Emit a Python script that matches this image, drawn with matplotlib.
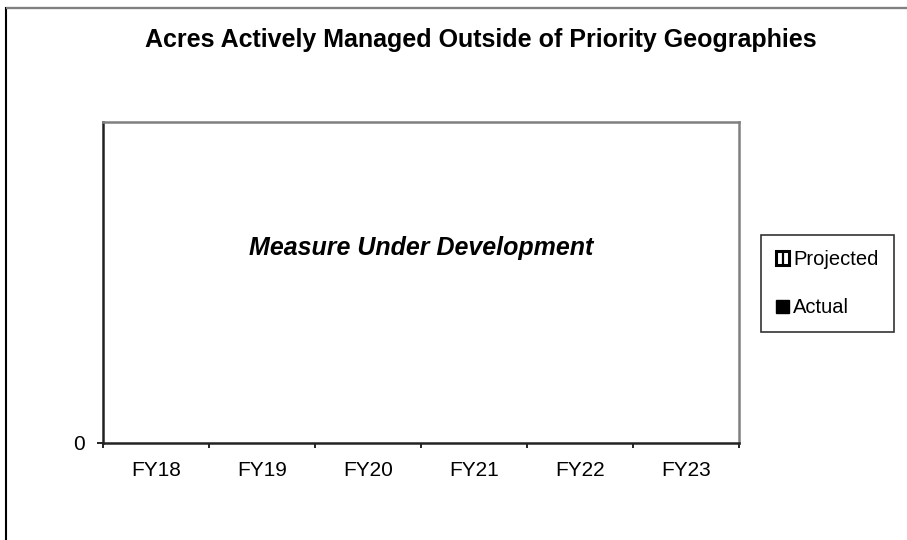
import matplotlib
matplotlib.use("Agg")
import matplotlib.pyplot as plt
from matplotlib.patches import Patch, Rectangle
from matplotlib.lines import Line2D

plt.rcParams['font.family'] = ['Liberation Sans', 'DejaVu Sans']

# Chart data (measure still under development, so nothing plotted yet)
categories = ["FY18", "FY19", "FY20", "FY21", "FY22", "FY23"]
projected = [0, 0, 0, 0, 0, 0]
actual = [0, 0, 0, 0, 0, 0]

W, H = 907, 540
fig = plt.figure(figsize=(W / 100, H / 100), dpi=100)

# outer chart frame (runs off the right and bottom edges)
fig.patches.append(Rectangle((6 / W, -0.05), 1.1, 1 - 8 / H + 0.05,
                             transform=fig.transFigure, fill=False,
                             edgecolor="black", linewidth=1.5, zorder=0))
fig.patches.append(Rectangle((6 / W, 1 - 8 / H), 1.1, 0,
                             transform=fig.transFigure, fill=False,
                             edgecolor="#808080", linewidth=1.5, zorder=1))

ax = fig.add_axes([103 / W, 1 - 443 / H, 636 / W, 321 / H])

x = range(len(categories))
ax.bar([i - 0.2 for i in x], projected, width=0.35, color="white",
       edgecolor="black", hatch="|", linewidth=0)
ax.bar([i + 0.2 for i in x], actual, width=0.35, color="black", linewidth=0)

ax.set_xlim(-0.5, len(categories) - 0.5)
ax.set_ylim(0, 1)
ax.set_yticks([0])
ax.set_yticklabels(["0"])
ax.set_xticks(list(x))
ax.set_xticklabels(categories)
ax.set_xticks([i - 0.5 for i in range(len(categories) + 1)], minor=True)
ax.tick_params(axis="x", which="major", length=0, pad=13, labelsize=15)
ax.tick_params(axis="x", which="minor", length=3.6, width=1.2, direction="out")
ax.tick_params(axis="y", length=4, width=1.2, pad=9, labelsize=15)

for side in ["top", "right"]:
    ax.spines[side].set_color("#808080")
    ax.spines[side].set_linewidth(1.8)
for side in ["left", "bottom"]:
    ax.spines[side].set_color("#222222")
    ax.spines[side].set_linewidth(1.8)

ax.text(0.5, 1 - (255 - 122) / 321, "Measure Under Development", transform=ax.transAxes,
        ha="center", va="baseline", fontsize=18, fontweight="bold", style="italic")

fig.text(481 / W, 1 - 47 / H, "Acres Actively Managed Outside of Priority Geographies",
         ha="center", va="baseline", fontsize=18, fontweight="bold")

# projected key: hollow square split by a vertical bar
proj_handle = (Patch(facecolor="white", edgecolor="black", linewidth=2.2),
               Line2D([], [], marker="|", color="black", linestyle="none",
                      markersize=8, markeredgewidth=1.6))
act_handle = Patch(facecolor="black", edgecolor="black")
leg = fig.legend([proj_handle, act_handle], ["Projected", "Actual"], loc="upper left",
                 bbox_to_anchor=(761 / W, 1 - 235 / H), fontsize=14.5,
                 frameon=True, fancybox=False, handlelength=0.65, handleheight=0.65,
                 handletextpad=0.2, labelspacing=1.45, borderpad=0.75,
                 borderaxespad=0)
leg.get_frame().set_edgecolor("black")
leg.get_frame().set_linewidth(1.2)

fig.savefig("out.png", dpi=100)
